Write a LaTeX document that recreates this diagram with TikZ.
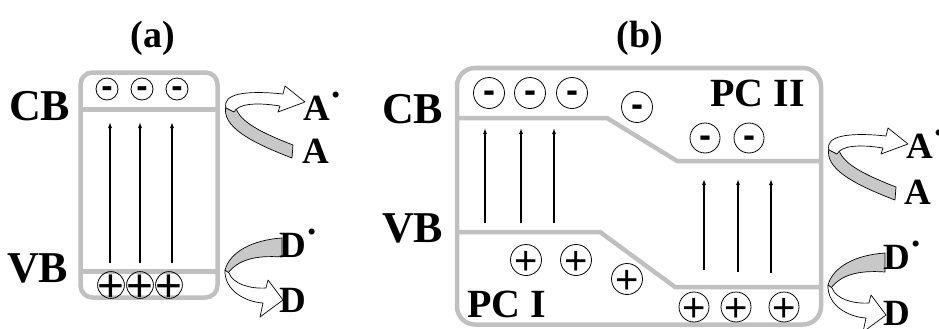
\documentclass[tikz,border=0pt]{standalone}
\usepackage{fontspec}
\setmainfont{Liberation Serif}
\newfontfamily\signfont{Liberation Sans}
\usetikzlibrary{arrows.meta}
\definecolor{bandgray}{RGB}{192,192,192}
\definecolor{ribbongray}{RGB}{200,200,200}
% raised radical dot after a species symbol
\newcommand\raddot{\hspace{2pt}\raisebox{0.6em}{.}}
% charge signs, centred on the baseline of the carrier node
\newcommand\msign[1]{\signfont\fontsize{#1}{#1}\selectfont\bfseries\smash{\raisebox{-0.26em}{-}}}
\newcommand\psign[1]{\signfont\fontsize{#1}{#1}\selectfont\smash{\raisebox{-0.35em}{+}}}
\begin{document}
\begin{tikzpicture}[x=1pt,y=-1pt,
  band/.style={draw=bandgray,line width=4.5pt},
  frame/.style={band,rounded corners=#1},
  lbl/.style={font=\fontsize{44}{44}\selectfont\bfseries,anchor=base west,inner sep=0},
  pclbl/.style={font=\fontsize{40}{40}\selectfont\bfseries,anchor=base west,inner sep=0},
  ttl/.style={font=\fontsize{38}{38}\selectfont\bfseries,inner sep=0},
  spc/.style={font=\fontsize{37}{37}\selectfont\bfseries,anchor=base west,inner sep=0},
  chg/.style={circle,draw,line width=0.8pt,inner sep=0,minimum size=#1},
  exc/.style={-{Latex[length=6pt,width=4pt]},line width=1.1pt},
  ribbon/.style={draw,line width=0.7pt,line join=round},
]
\useasboundingbox (0,0) rectangle (939,329);

% ---------------- panel (a): single photocatalyst ----------------
\node[ttl] (ta) at (153,38) {(a)};
\draw[frame=12pt] (80.5,72.5) rectangle (217.5,297.5);
\draw[band] (80.5,109.5) -- (217.5,109.5);
\draw[band] (80.5,271.5) -- (217.5,271.5);
\node[lbl] (cba) at (9,120) {CB};
\node[lbl] (vba) at (7,282) {VB};

\node[chg=22pt] (ea1) at (107,89) {\msign{34}};
\node[chg=22pt] (ea2) at (142,89) {\msign{34}};
\node[chg=22pt] (ea3) at (177,89) {\msign{34}};
\node[chg=24pt] (ha1) at (111,285) {\psign{46}};
\node[chg=24pt] (ha2) at (140,285) {\psign{46}};
\node[chg=24pt] (ha3) at (169,285) {\psign{46}};

\foreach \i/\x in {1/110,2/140,3/172}{
  \coordinate (va\i) at (\x,263);
  \coordinate (ca\i) at (\x,122);
  \draw[exc] (va\i) -- (ca\i);
}

% electron transfer to the acceptor
\begin{scope}
  \draw[ribbon,fill=ribbongray] (226,106) .. controls (221,126) and (250,142) .. (292,158)
    -- (293,145) .. controls (262,133) and (240,122) .. (236,108) -- cycle;
  \draw[ribbon,fill=white] (226,108) .. controls (222,94) and (245,90) .. (283,94)
    -- (285,86) -- (305,102) -- (278,112) -- (280,106)
    .. controls (255,102) and (238,104) .. (234,112) -- cycle;
\end{scope}
% hole transfer from the donor
\begin{scope}
  \draw[ribbon,fill=ribbongray] (282,238) -- (282,257) .. controls (255,255) and (238,260) .. (228,273)
    -- (225,270) .. controls (230,252) and (252,240) .. (282,238) -- cycle;
  \draw[ribbon,fill=white] (225,270) .. controls (224,290) and (245,302) .. (263,303)
    -- (260,317) -- (283,300) -- (268,280) -- (266,288)
    .. controls (250,289) and (233,284) .. (229,273) -- cycle;
\end{scope}
\node[spc] (aox) at (303,120) {A\raddot};
\node[spc] (ared) at (302,163) {A};
\node[spc] (dox) at (279,257) {D\raddot};
\node[spc] (dred) at (279,312) {D};

% ---------------- panel (b): two coupled photocatalysts ----------------
\node[ttl] (tb) at (640,38) {(b)};
\draw[frame=18pt] (457,68) rectangle (821,324.5);
\draw[band] (457,118) -- (607,118) -- (677,161) -- (821,161);
\draw[band] (457,232) -- (600,232) -- (675,287) -- (821,287);
\node[lbl] (cbb) at (382,123) {CB};
\node[lbl] (vbb) at (382,242) {VB};
\node[pclbl] (pc1) at (467,317) {PC I};
\node[pclbl] (pc2) at (710,106) {PC II};

\node[chg=31pt] (eb1) at (489,93) {\msign{36}};
\node[chg=31pt] (eb2) at (530,93) {\msign{36}};
\node[chg=31pt] (eb3) at (572,93) {\msign{36}};
\node[chg=31pt] (eb4) at (637,107) {\msign{36}};
\node[chg=30pt] (eb5) at (705,138) {\msign{36}};
\node[chg=30pt] (eb6) at (749,138) {\msign{36}};

\node[chg=31pt] (hb1) at (526,260) {\psign{40}};
\node[chg=31pt] (hb2) at (576,260) {\psign{40}};
\node[chg=31pt] (hb3) at (627,279) {\psign{40}};
\node[chg=30pt] (hb4) at (694,307) {\psign{40}};
\node[chg=30pt] (hb5) at (736,307) {\psign{40}};
\node[chg=30pt] (hb6) at (784,307) {\psign{40}};

\foreach \i/\x in {1/485,2/521,3/554}{
  \coordinate (vb\i) at (\x,223);
  \coordinate (cb\i) at (\x,128);
  \draw[exc] (vb\i) -- (cb\i);
}
\foreach \i/\x/\y in {4/704/270,5/738/272,6/771/273}{
  \coordinate (vb\i) at (\x,\y);
  \coordinate (cb\i) at (\x,179);
  \draw[exc] (vb\i) -- (cb\i);
}

\begin{scope}[shift={(603,42)}]
  \draw[ribbon,fill=ribbongray] (226,106) .. controls (221,126) and (250,142) .. (292,158)
    -- (293,145) .. controls (262,133) and (240,122) .. (236,108) -- cycle;
  \draw[ribbon,fill=white] (226,108) .. controls (222,94) and (245,90) .. (283,94)
    -- (285,86) -- (305,102) -- (278,112) -- (280,106)
    .. controls (255,102) and (238,104) .. (234,112) -- cycle;
\end{scope}
\begin{scope}[shift={(603,15)}]
  \draw[ribbon,fill=ribbongray] (282,238) -- (282,257) .. controls (255,255) and (238,260) .. (228,273)
    -- (225,270) .. controls (230,252) and (252,240) .. (282,238) -- cycle;
  \draw[ribbon,fill=white] (225,270) .. controls (224,290) and (245,302) .. (263,303)
    -- (260,317) -- (283,300) -- (268,280) -- (266,288)
    .. controls (250,289) and (233,284) .. (229,273) -- cycle;
\end{scope}
\node[spc] (aoxb) at (906,158) {A\raddot};
\node[spc] (aredb) at (904,204) {A};
\node[spc] (doxb) at (883,269) {D\raddot};
\node[spc] (dredb) at (883,325) {D};
\end{tikzpicture}
\end{document}
